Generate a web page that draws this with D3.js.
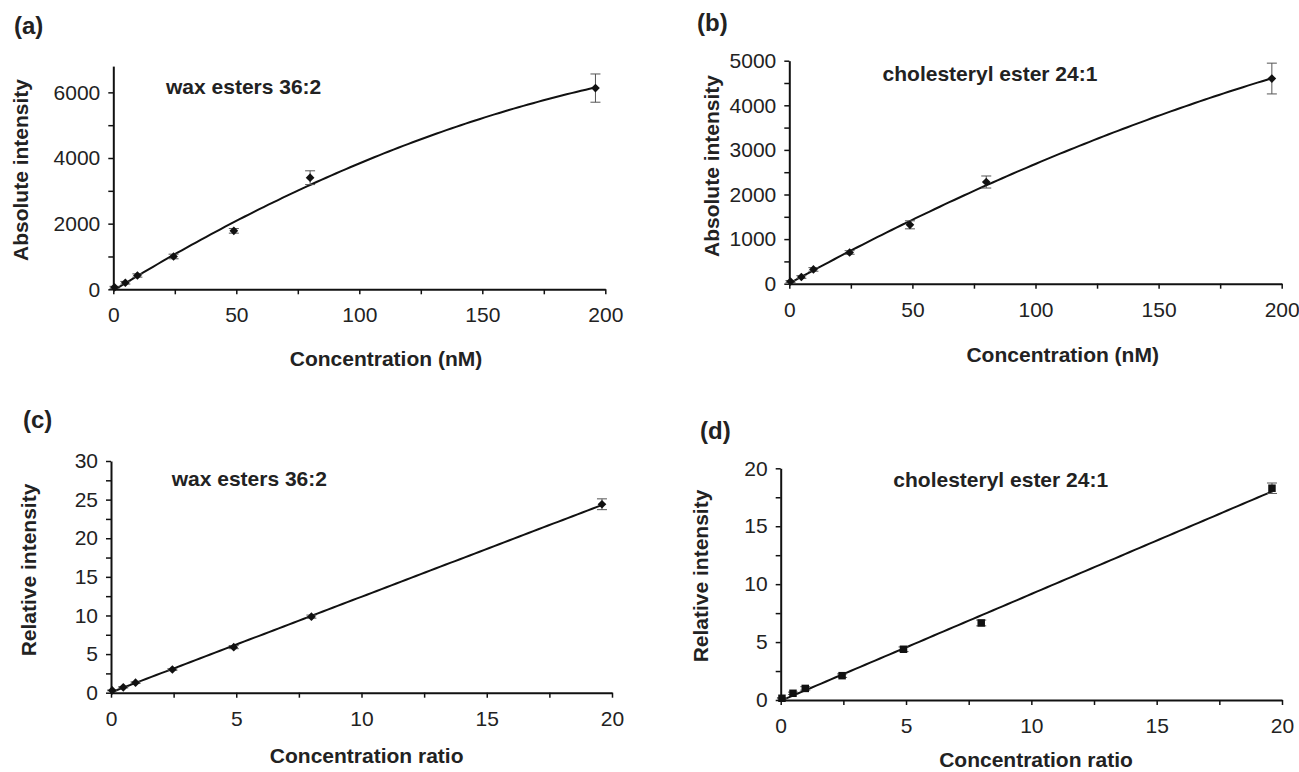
<!DOCTYPE html>
<html>
<head>
<meta charset="utf-8">
<script src="https://d3js.org/d3.v7.min.js"></script>
<style>
body{margin:0;background:#fff;}
svg{display:block;font-family:"Liberation Sans",Arial,sans-serif;}
.axis path,.axis line{stroke:#111;}
.axis path{stroke-width:2;}
.axis line{stroke-width:1.5;}
.axis text{font-size:21px;fill:#222;font-family:"Liberation Sans",Arial,sans-serif;}
.title{font-size:21px;font-weight:bold;fill:#222;}
.note{font-size:21px;font-weight:bold;fill:#222;}
.tag{font-size:24px;font-weight:bold;fill:#222;}
</style>
</head>
<body>
<script>
// values
var concNM = [0.5, 4.9, 9.8, 24.5, 49, 80, 196];
var concRatio = [0.05, 0.49, 0.98, 2.45, 4.9, 8.0, 19.6];

var waxAbs = [60, 200, 420, 1000, 1780, 3400, 6130];
var waxAbsErr = [30, 40, 50, 70, 70, 210, 430];
var cholAbs = [50, 150, 320, 700, 1320, 2280, 4600];
var cholAbsErr = [20, 30, 40, 40, 90, 135, 345];

var waxRel = [0.3, 0.7, 1.3, 3.0, 5.9, 9.85, 24.4];
var waxRelErr = [0.05, 0.08, 0.1, 0.1, 0.2, 0.2, 0.7];
var cholRel = [0.15, 0.58, 1.0, 2.1, 4.38, 6.65, 18.28];
var cholRelErr = [0.05, 0.1, 0.15, 0.15, 0.2, 0.25, 0.45];

// tick labels
var absXLabels = [0, 50, 100, 150, 200];
var ratioXLabels = [0, 5, 10, 15, 20];
var waxAbsYLabels = [0, 2000, 4000, 6000];
var cholAbsYLabels = [0, 1000, 2000, 3000, 4000, 5000];
var waxRelYLabels = [0, 5, 10, 15, 20, 25, 30];
var cholRelYLabels = [0, 5, 10, 15, 20];

var panels = [
  {tag: "(a)", x: concNM, y: waxAbs, err: waxAbsErr, xLabels: absXLabels, yLabels: waxAbsYLabels,
   xMax: 200, yMax: 6800, deg: 2, marker: d3.symbolDiamond2, size: 48,
   note: "wax esters 36:2", xTitle: "Concentration (nM)", yTitle: "Absolute intensity",
   box: {l: 113.3, r: 605.3, t: 66.1, b: 289.3}, tagPos: [14, 34], notePos: [166, 86],
   xTitlePos: [386, 358], yTitlePos: [20, 170]},
  {tag: "(b)", x: concNM, y: cholAbs, err: cholAbsErr, xLabels: absXLabels, yLabels: cholAbsYLabels,
   xMax: 200, yMax: 5000, deg: 2, marker: d3.symbolDiamond2, size: 48,
   note: "cholesteryl ester 24:1", xTitle: "Concentration (nM)", yTitle: "Absolute intensity",
   box: {l: 789.3, r: 1281.7, t: 60.7, b: 283.7}, tagPos: [697, 31], notePos: [882.6, 73.3],
   xTitlePos: [1062.7, 354], yTitlePos: [711, 166]},
  {tag: "(c)", x: concRatio, y: waxRel, err: waxRelErr, xLabels: ratioXLabels, yLabels: waxRelYLabels,
   xMax: 20, yMax: 30, deg: 1, marker: d3.symbolDiamond2, size: 48,
   note: "wax esters 36:2", xTitle: "Concentration ratio", yTitle: "Relative intensity",
   box: {l: 111, r: 612, t: 461, b: 692.7}, tagPos: [23, 428], notePos: [171.7, 478],
   xTitlePos: [366.7, 755.5], yTitlePos: [28.7, 570]},
  {tag: "(d)", x: concRatio, y: cholRel, err: cholRelErr, xLabels: ratioXLabels, yLabels: cholRelYLabels,
   xMax: 20, yMax: 20, deg: 1, marker: d3.symbolSquare, size: 56,
   note: "cholesteryl ester 24:1", xTitle: "Concentration ratio", yTitle: "Relative intensity",
   box: {l: 780.7, r: 1282, t: 468.3, b: 700}, tagPos: [700, 439], notePos: [893.3, 479],
   xTitlePos: [1036, 759], yTitlePos: [700, 576]}
];

// least squares polynomial (Excel-style trendline)
function polyfit(xs, ys, deg) {
  var n = deg + 1, A = [], B = [], i, j, k;
  for (i = 0; i < n; i++) {
    A[i] = [];
    for (j = 0; j < n; j++) A[i][j] = d3.sum(xs, function(x) { return Math.pow(x, i + j); });
    B[i] = d3.sum(xs, function(x, m) { return Math.pow(x, i) * ys[m]; });
  }
  for (j = 0; j < n; j++) {
    for (i = j + 1; i < n; i++) {
      var f = A[i][j] / A[j][j];
      for (k = j; k < n; k++) A[i][k] -= f * A[j][k];
      B[i] -= f * B[j];
    }
  }
  var c = [];
  for (i = n - 1; i >= 0; i--) {
    var s = B[i];
    for (k = i + 1; k < n; k++) s -= A[i][k] * c[k];
    c[i] = s / A[i][i];
  }
  return c;
}

// major labels plus the half steps between them
function withMinor(labels) {
  var t = labels.slice();
  for (var i = 1; i < labels.length; i++) t.push((labels[i - 1] + labels[i]) / 2);
  return t.sort(d3.ascending);
}

var svg = d3.select("body").append("svg")
  .attr("width", 1299)
  .attr("height", 772);

panels.forEach(function(p) {
  var xs = d3.scaleLinear().domain([0, p.xMax]).range([p.box.l, p.box.r]);
  var ys = d3.scaleLinear().domain([0, p.yMax]).range([p.box.b, p.box.t]);

  svg.append("g")
    .attr("class", "axis")
    .attr("transform", "translate(0," + p.box.b + ")")
    .call(d3.axisBottom(xs)
      .tickValues(withMinor(p.xLabels))
      .tickSize(5).tickSizeOuter(0).tickPadding(13)
      .tickFormat(function(v) { return p.xLabels.indexOf(v) >= 0 ? v : ""; }));

  svg.append("g")
    .attr("class", "axis")
    .attr("transform", "translate(" + p.box.l + ",0)")
    .call(d3.axisLeft(ys)
      .tickValues(withMinor(p.yLabels))
      .tickSize(5).tickSizeOuter(0).tickPadding(8)
      .tickFormat(function(v) { return p.yLabels.indexOf(v) >= 0 ? v : ""; }));

  // trendline
  var c = polyfit(p.x, p.y, p.deg);
  var x0 = d3.min(p.x), x1 = d3.max(p.x);
  var pts = d3.range(0, 101).map(function(i) {
    var xv = x0 + (x1 - x0) * i / 100;
    var yv = 0;
    for (var k = 0; k < c.length; k++) yv += c[k] * Math.pow(xv, k);
    return [xv, yv];
  });
  svg.append("path")
    .datum(pts)
    .attr("fill", "none")
    .attr("stroke", "#111")
    .attr("stroke-width", 2)
    .attr("d", d3.line()
      .x(function(d) { return xs(d[0]); })
      .y(function(d) { return ys(Math.max(0, d[1])); }));

  var rows = p.x.map(function(xv, i) { return {x: xv, y: p.y[i], e: p.err[i]}; });

  // error bars
  var eb = svg.append("g").attr("stroke", "#555").attr("stroke-width", 1);
  rows.forEach(function(d) {
    var cx = xs(d.x), y0 = ys(d.y - d.e), y1 = ys(d.y + d.e);
    eb.append("line").attr("x1", cx).attr("x2", cx).attr("y1", y0).attr("y2", y1);
    eb.append("line").attr("x1", cx - 5).attr("x2", cx + 5).attr("y1", y0).attr("y2", y0);
    eb.append("line").attr("x1", cx - 5).attr("x2", cx + 5).attr("y1", y1).attr("y2", y1);
  });

  svg.append("g").selectAll("path")
    .data(rows)
    .enter().append("path")
    .attr("transform", function(d) { return "translate(" + xs(d.x) + "," + ys(d.y) + ")"; })
    .attr("d", d3.symbol().type(p.marker).size(p.size))
    .attr("fill", "#111");

  // texts
  svg.append("text").attr("class", "tag")
    .attr("x", p.tagPos[0]).attr("y", p.tagPos[1])
    .text(p.tag);

  svg.append("text").attr("class", "note")
    .attr("x", p.notePos[0]).attr("y", p.notePos[1])
    .attr("dy", "0.36em")
    .text(p.note);

  svg.append("text").attr("class", "title")
    .attr("x", p.xTitlePos[0]).attr("y", p.xTitlePos[1])
    .attr("dy", "0.36em")
    .attr("text-anchor", "middle")
    .text(p.xTitle);

  svg.append("text").attr("class", "title")
    .attr("transform", "translate(" + p.yTitlePos[0] + "," + p.yTitlePos[1] + ") rotate(-90)")
    .attr("dy", "0.36em")
    .attr("text-anchor", "middle")
    .text(p.yTitle);
});
</script>
</body>
</html>
